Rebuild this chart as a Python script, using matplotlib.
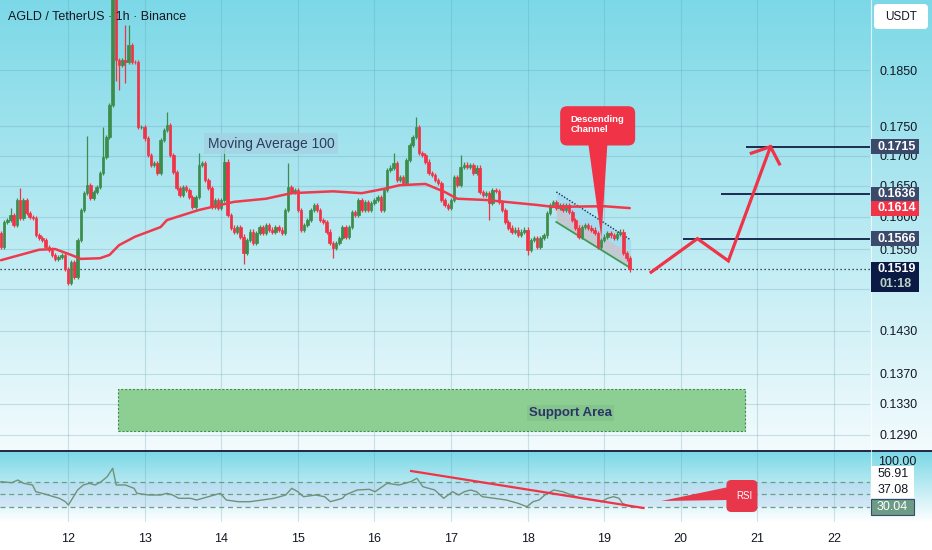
import numpy as np
import matplotlib
matplotlib.use("Agg")
import matplotlib.pyplot as plt
from matplotlib.transforms import IdentityTransform
from matplotlib.patches import Rectangle, Polygon, FancyBboxPatch
from matplotlib.ticker import NullLocator, NullFormatter, FixedLocator, FixedFormatter

plt.rcParams['font.family'] = ['Liberation Sans', 'DejaVu Sans']

# ------------------------------------------------------------------ data
title = "AGLD / TetherUS · 1h · Binance"
day_labels = ['12', '13', '14', '15', '16', '17', '18', '19', '20', '21', '22']
day12_index = 21          # candle index of day 12 00:00 (1h candles)
hours_per_day = 24

closes = [
    0.1553, 0.1592, 0.1595, 0.1603, 0.1587, 0.1627, 0.1598, 0.1627, 0.1606, 0.1600,
    0.1598, 0.1572, 0.1567, 0.1564, 0.1553, 0.1549, 0.1541, 0.1535, 0.1538, 0.1541,
    0.1520, 0.1499, 0.1530, 0.1508, 0.1564, 0.1611, 0.1638, 0.1651, 0.1630, 0.1640,
    0.1648, 0.1671, 0.1698, 0.1731, 0.1787, 0.1992, 0.1868, 0.1859, 0.1868, 0.1865,
    0.1896, 0.1865, 0.1864, 0.1748, 0.1749, 0.1729, 0.1701, 0.1685, 0.1688, 0.1671,
    0.1726, 0.1743, 0.1752, 0.1701, 0.1673, 0.1646, 0.1635, 0.1648, 0.1643, 0.1632,
    0.1616, 0.1632, 0.1685, 0.1688, 0.1659, 0.1646, 0.1616, 0.1627, 0.1614, 0.1627,
    0.1690, 0.1603, 0.1583, 0.1577, 0.1584, 0.1569, 0.1544, 0.1564, 0.1577, 0.1559,
    0.1575, 0.1584, 0.1575, 0.1587, 0.1580, 0.1577, 0.1584, 0.1580, 0.1575, 0.1611,
    0.1648, 0.1640, 0.1643, 0.1611, 0.1580, 0.1587, 0.1595, 0.1611, 0.1619, 0.1611,
    0.1595, 0.1592, 0.1577, 0.1559, 0.1552, 0.1559, 0.1567, 0.1584, 0.1569, 0.1584,
    0.1608, 0.1603, 0.1627, 0.1611, 0.1624, 0.1611, 0.1622, 0.1627, 0.1632, 0.1611,
    0.1643, 0.1676, 0.1680, 0.1688, 0.1659, 0.1664, 0.1654, 0.1693, 0.1718, 0.1731,
    0.1748, 0.1704, 0.1701, 0.1690, 0.1671, 0.1668, 0.1659, 0.1654, 0.1627, 0.1619,
    0.1614, 0.1627, 0.1664, 0.1651, 0.1681, 0.1685, 0.1681, 0.1684, 0.1671, 0.1680,
    0.1640, 0.1635, 0.1638, 0.1622, 0.1643, 0.1642, 0.1624, 0.1611, 0.1592, 0.1583,
    0.1577, 0.1580, 0.1572, 0.1577, 0.1580, 0.1549, 0.1564, 0.1567, 0.1553, 0.1567,
    0.1571, 0.1606, 0.1619, 0.1624, 0.1614, 0.1619, 0.1611, 0.1619, 0.1608, 0.1595,
    0.1583, 0.1569, 0.1584, 0.1587, 0.1583, 0.1580, 0.1575, 0.1553, 0.1564, 0.1569,
    0.1575, 0.1571, 0.1567, 0.1574, 0.1577, 0.1544, 0.1536, 0.1519,
]
first_open = 0.1575
typical_wick = 0.00035
marked_highs = {3: 0.1614, 6: 0.1646, 27: 0.1734, 32: 0.1748, 35: 0.2060, 39: 0.1935,
                40: 0.1934, 52: 0.1775, 62: 0.1705, 70: 0.1721, 90: 0.1688,
                123: 0.1704, 130: 0.1766, 144: 0.1701}
marked_lows = {21: 0.1496, 36: 0.1830, 37: 0.1814, 39: 0.1826, 76: 0.1528,
               104: 0.1536, 153: 0.1595, 165: 0.1541, 197: 0.1515}

ma_idx = [0, 6, 12, 17, 22, 25, 31, 34, 37, 42, 50, 52, 62, 73, 83, 91, 104, 113,
          120, 125, 133, 139, 143, 152, 168, 173, 189, 197]
ma_val = [0.1533, 0.1541, 0.1549, 0.1550, 0.1541, 0.1535, 0.1536, 0.1541, 0.1556,
          0.1569, 0.1584, 0.1595, 0.1611, 0.1624, 0.1629, 0.1638, 0.1641, 0.1638,
          0.1645, 0.1651, 0.1653, 0.1640, 0.1629, 0.1627, 0.1619, 0.1616, 0.1617, 0.1614]

rsi_idx = [0, 3.4, 5.3, 7.1, 9.9, 10.9, 13.7, 16.5, 18.3, 20.2, 21.1, 22.1, 24, 25.8,
           27.7, 29.5, 31.4, 33.3, 35, 36.1, 39, 41.7, 42.6, 46.3, 50, 52, 53.8, 55.7,
           59.4, 61.3, 65, 68.7, 70.6, 74.3, 78, 81.8, 85.5, 87.4, 89.2, 91.1, 93, 94.8,
           98.6, 101.4, 103.2, 107, 107.9, 111.6, 115.4, 117.2, 121, 124.7, 128.4, 130.3,
           132.2, 135.9, 138.7, 141.5, 143.4, 145.2, 147.1, 149, 150.8, 154.6, 158.3,
           162, 164.8, 166.7, 168.6, 170.4, 173.2, 176, 178.8, 181.6, 185.4, 188.2, 190,
           191.9, 193.7, 194.7, 197]
rsi_val = [69.7, 68.1, 72.4, 67.1, 64.4, 53.7, 50.0, 45.7, 43.1, 37.7, 32.4, 40.4, 56.4,
           64.4, 67.1, 64.4, 69.7, 77.7, 91.1, 64.4, 64.4, 59.1, 51.1, 48.4, 48.4, 51.1,
           48.4, 43.1, 43.1, 40.4, 45.7, 51.1, 40.4, 37.7, 37.7, 40.4, 43.1, 45.7, 48.4,
           59.1, 53.7, 45.7, 48.4, 45.7, 37.7, 43.1, 48.4, 56.4, 57.5, 53.7, 67.1, 64.4,
           69.7, 75.1, 61.7, 56.4, 43.1, 53.7, 48.4, 53.7, 56.4, 53.7, 45.7, 43.1, 40.4,
           35.1, 29.7, 37.7, 40.4, 48.4, 56.4, 53.7, 48.4, 43.1, 40.4, 37.7, 43.1, 45.7,
           43.1, 35.1, 30.04]
rsi_levels = [70, 50, 30]
rsi_axis_labels = ['100.00', '56.91', '37.08', '30.04']

price_ticks = [0.1850, 0.1750, 0.1700, 0.1650, 0.1600, 0.1550, 0.1490, 0.1430,
               0.1370, 0.1330, 0.1290]
hidden_tick_labels = [0.1490]   # fully covered by the last-price box in the reference
last_price = 0.1519
countdown = "01:18"
ma_last = 0.1614
target_levels = [0.1566, 0.1636, 0.1715]
target_start_idx = [213.8, 225.7, 233.5]

proj_idx = [203.7, 218.2, 227.9, 241.1]
proj_price = [0.1515, 0.1566, 0.1532, 0.1715]
arrow_idx = [235.1, 241.1, 243.9]
arrow_price = [0.1704, 0.1715, 0.1686]

channel_idx = [174.0, 197.3]
channel_upper = [0.1640, 0.1564]
channel_lower = [0.1592, 0.1521]

callout_box_idx = [175.2, 198.7]
callout_box_price = [0.1717, 0.1785]
callout_tip = (188.1, 0.1567)
callout_base_idx = [184.0, 190.0]

support_idx = [36.7, 233.2]
support_price = [0.1295, 0.1350]
support_label_pos = (178.4, 0.1318)

ma_label_pos = (84.6, 0.1720)

rsi_trend_idx = [128.5, 201.3]
rsi_trend_val = [86.8, 27.6]
rsi_callout_tip = (206.9, 38.8)
rsi_callout_box_idx = [227.3, 237.0]
rsi_callout_box_val = [21.2, 72.4]
rsi_callout_joint = [61.0, 40.4]

# ------------------------------------------------------------------ layout
W, H = 932, 550
fig = plt.figure(figsize=(W / 100, H / 100), dpi=100)
MAIN_BOT, RSI_TOP, RSI_BOT, AX_RIGHT = 451, 452, 522, 870

GREEN = '#3c8c4b'
RED = '#f03346'
NAVY = '#131722'
TOP = np.array([124, 216, 231]) / 255.0

# background gradients
bg = fig.add_axes([0, 0, 1, 1], zorder=-5)
bg.set_xlim(0, W); bg.set_ylim(H, 0); bg.axis('off')
def grad(y0, y1, c0, c1):
    t = np.linspace(0, 1, 256)[:, None, None]
    img = c0[None, None, :] * (1 - t) + c1[None, None, :] * t
    bg.imshow(img, extent=(0, W, y1, y0), aspect='auto', interpolation='bilinear')
bg.add_patch(Rectangle((0, 0), W, H, color='white', zorder=-1))
grad(0, MAIN_BOT, TOP, np.array([243, 251, 253]) / 255.0)
grad(RSI_TOP, RSI_BOT, TOP, np.array([255, 255, 255]) / 255.0)
bg.set_xlim(0, W); bg.set_ylim(H, 0)

ymin = 0.185 * np.exp((70 - MAIN_BOT) / 1012.0)
ymax = 0.185 * np.exp(70 / 1012.0)
xmin = day12_index - 68 / 3.1917
xmax = day12_index + (AX_RIGHT - 68) / 3.1917

ax = fig.add_axes([0, 1 - MAIN_BOT / H, AX_RIGHT / W, MAIN_BOT / H])
ax.patch.set_alpha(0)
ax.set_yscale('log')
ax.set_xlim(xmin, xmax)
ax.set_ylim(ymin, ymax)
for s in ax.spines.values():
    s.set_visible(False)

day_pos = [day12_index + hours_per_day * k for k in range(len(day_labels))]
ax.yaxis.set_major_locator(FixedLocator(price_ticks))
ax.yaxis.set_major_formatter(FixedFormatter(
    ['' if p in hidden_tick_labels else '%.4f' % p for p in price_ticks]))
ax.yaxis.set_minor_locator(NullLocator())
ax.yaxis.set_minor_formatter(NullFormatter())
ax.yaxis.tick_right()
ax.tick_params(axis='y', length=0, pad=6.5, labelsize=9, labelcolor=NAVY)
ax.set_xticks(day_pos)
ax.tick_params(axis='x', length=0, labelbottom=False)
ax.grid(True, color='#5f9fae', alpha=0.28, lw=0.8)
ax.set_axisbelow(True)

# support area
ax.add_patch(Rectangle((support_idx[0], support_price[0]), support_idx[1] - support_idx[0],
                       support_price[1] - support_price[0], facecolor='#8dce92',
                       edgecolor='#3e8e50', lw=0.8, ls=(0, (2, 1.5)), zorder=2))
ax.text(*support_label_pos, 'Support Area', ha='center', va='center', fontsize=9.5,
        fontweight='bold', color='#2c3466', zorder=3,
        bbox=dict(boxstyle='square,pad=0.15', fc='#7dbf8a', ec='none', alpha=0.6))

# descending channel fill
mid = [np.sqrt(a * b) for a, b in zip(channel_upper, channel_lower)]
ax.fill_between(channel_idx, mid, channel_upper, color='#a3dcf0', alpha=0.9, lw=0, zorder=2)
ax.fill_between(channel_idx, channel_lower, mid, color='#c4c8d2', alpha=0.95, lw=0, zorder=2)
ax.plot(channel_idx, channel_upper, color='#1b2a55', lw=1.0, ls=(0, (1, 1.2)), zorder=3)
ax.plot(channel_idx, channel_lower, color='#3f9a55', lw=1.3, zorder=3)

# candles
c = np.array(closes)
o = np.array([first_open] + closes[:-1])
idx = np.arange(len(c))
hi = np.maximum(o, c) + typical_wick
lo = np.minimum(o, c) - typical_wick
for k, v in marked_highs.items():
    hi[k] = v
for k, v in marked_lows.items():
    lo[k] = v
cols = [GREEN if cc >= oo else RED for oo, cc in zip(o, c)]
ax.vlines(idx, lo, hi, colors=cols, lw=0.9, zorder=4)
ax.bar(idx, np.abs(c - o), bottom=np.minimum(o, c), width=0.78, color=cols,
       edgecolor=cols, lw=0.5, zorder=4)

# moving average
ax.plot(ma_idx, ma_val, color='#ee3a4c', lw=1.8, zorder=5, solid_capstyle='round')
ax.text(*ma_label_pos, 'Moving Average 100', ha='center', va='center', fontsize=10,
        color='#2e3d5e', zorder=6,
        bbox=dict(boxstyle='square,pad=0.25', fc='#a3d3e3', ec='none', alpha=0.85))

# current price dotted line
ax.axhline(last_price, color=NAVY, lw=0.9, ls=(0, (1, 2.2)), zorder=3)

# target levels
for lvl, st in zip(target_levels, target_start_idx):
    ax.hlines(lvl, st, xmax, color='#0f1d45', lw=1.3, zorder=6)

# projection path
ax.plot(proj_idx, proj_price, color=RED, lw=2.3, zorder=7, solid_joinstyle='miter')
ax.plot(arrow_idx, arrow_price, color=RED, lw=2.3, zorder=7, solid_joinstyle='miter')

# Descending channel callout
fig.canvas.draw()
def disp(a, x, y):
    return a.transData.transform((x, y))
b0 = disp(ax, callout_box_idx[0], callout_box_price[0])
b1 = disp(ax, callout_box_idx[1], callout_box_price[1])
fig.add_artist(FancyBboxPatch((b0[0], b0[1]), b1[0] - b0[0], b1[1] - b0[1],
                              boxstyle='round,pad=0,rounding_size=7', fc=RED, ec='none',
                              transform=IdentityTransform(), zorder=8))
ax.add_patch(Polygon([(callout_base_idx[0], callout_box_price[0] * 1.002),
                      (callout_base_idx[1], callout_box_price[0] * 1.002), callout_tip],
                     closed=True, fc=RED, ec='none', zorder=8))
fig.text((b0[0] + b1[0]) / 2, (b0[1] + b1[1]) / 2 + 1, 'Descending\nChannel',
         transform=IdentityTransform(), ha='center', va='center', multialignment='left',
         fontsize=6.8, fontweight='bold', color='white', zorder=9, linespacing=1.15)

# right axis boxes
def axis_box(price, txt, fc, tc, h=15, sub=None):
    y = disp(ax, 0, price)[1]
    top = y + h / 2
    bot = y - h / 2 if sub is None else y - h / 2 - 15
    fig.add_artist(Rectangle((871, bot), 48, top - bot, fc=fc, ec='none',
                             transform=IdentityTransform(), zorder=10))
    fig.text(878, y, txt, transform=IdentityTransform(), fontsize=9, fontweight='bold',
             color=tc, va='center', ha='left', zorder=11)
    if sub is not None:
        fig.text(880, y - 15, sub, transform=IdentityTransform(), fontsize=9,
                 fontweight='bold', color='#b9d3c4', va='center', ha='left', zorder=11)

for lvl in target_levels:
    axis_box(lvl, '%.4f' % lvl, '#3b4a6b', 'white')
axis_box(ma_last, '%.4f' % ma_last, RED, 'white')
axis_box(last_price, '%.4f' % last_price, '#0b1a45', 'white', sub=countdown)

# USDT box
fig.add_artist(FancyBboxPatch((874, H - 29), 54, 25, boxstyle='round,pad=0,rounding_size=4',
                              fc='white', ec='none', transform=IdentityTransform(), zorder=10))
fig.text(901, H - 17, 'USDT', transform=IdentityTransform(), fontsize=8.5, color=NAVY,
         ha='center', va='center', zorder=11)

# title
fig.text(8, H - 17, title, transform=IdentityTransform(), fontsize=9, color=NAVY,
         ha='left', va='center', zorder=11)

# ------------------------------------------------------------------ RSI panel
rax = fig.add_axes([0, 1 - RSI_BOT / H, AX_RIGHT / W, (RSI_BOT - RSI_TOP) / H])
rax.patch.set_alpha(0)
rlo = 50 - (RSI_BOT - 494) / 0.625
rhi = 50 + (494 - RSI_TOP) / 0.625
rax.set_xlim(xmin, xmax)
rax.set_ylim(rlo, rhi)
for s in rax.spines.values():
    s.set_visible(False)
rax.set_yticks([])
rax.set_xticks(day_pos)
rax.set_xticklabels(day_labels)
rax.tick_params(axis='x', length=0, pad=8, labelsize=9, labelcolor=NAVY)
rax.grid(True, axis='x', color='#5f9fae', alpha=0.28, lw=0.8)
rax.fill_between([xmin, xmax], rsi_levels[-1], rsi_levels[0], color='#b8c6ef', alpha=0.3, lw=0)
for lv in rsi_levels:
    rax.axhline(lv, color='#6a9e86', lw=0.9, ls=(0, (4, 3)))
rax.plot(rsi_idx, rsi_val, color='#6f927a', lw=1.0, zorder=3)
rax.plot(rsi_trend_idx, rsi_trend_val, color=RED, lw=1.6, zorder=4)
rax.add_patch(Polygon([rsi_callout_tip, (rsi_callout_box_idx[0] + 0.5, rsi_callout_joint[0]),
                       (rsi_callout_box_idx[0] + 0.5, rsi_callout_joint[1])],
                      closed=True, fc='#e8364b', ec='none', zorder=5))
fig.canvas.draw()
r0 = disp(rax, rsi_callout_box_idx[0], rsi_callout_box_val[0])
r1 = disp(rax, rsi_callout_box_idx[1], rsi_callout_box_val[1])
fig.add_artist(FancyBboxPatch((r0[0], r0[1]), r1[0] - r0[0], r1[1] - r0[1],
                              boxstyle='round,pad=0,rounding_size=5', fc='#e8364b', ec='none',
                              transform=IdentityTransform(), zorder=6))
fig.text((r0[0] + r1[0]) / 2 + 2, (r0[1] + r1[1]) / 2, 'RSI', transform=IdentityTransform(),
         fontsize=7, color='white', ha='center', va='center', zorder=7)

# RSI axis labels (stacked like the platform does)
fig.text(878, H - 462, rsi_axis_labels[0], transform=IdentityTransform(), fontsize=9,
         color=NAVY, va='center', ha='left', zorder=11)
fig.add_artist(Rectangle((871, H - 498), 43, 32, fc='white', ec='none',
                         transform=IdentityTransform(), zorder=10))
fig.text(878, H - 474, rsi_axis_labels[1], transform=IdentityTransform(), fontsize=9,
         color=NAVY, va='center', ha='left', zorder=11)
fig.text(878, H - 490, rsi_axis_labels[2], transform=IdentityTransform(), fontsize=9,
         color=NAVY, va='center', ha='left', zorder=11)
fig.add_artist(Rectangle((871, H - 515), 43, 16, fc='#6d9c86', ec='#3a4a6a', lw=0.8,
                         transform=IdentityTransform(), zorder=10))
fig.text(877, H - 507, rsi_axis_labels[3], transform=IdentityTransform(), fontsize=9,
         color='white', va='center', ha='left', zorder=11)

# separators
fig.add_artist(plt.Line2D([0, W], [H - 451, H - 451], color='#1e2745', lw=1.4,
                          transform=IdentityTransform(), zorder=9))
fig.add_artist(plt.Line2D([871, 871], [H - 522, H], color='white', lw=0.8, alpha=0.7,
                          transform=IdentityTransform(), zorder=9))

fig.savefig('out.png', dpi=100)
